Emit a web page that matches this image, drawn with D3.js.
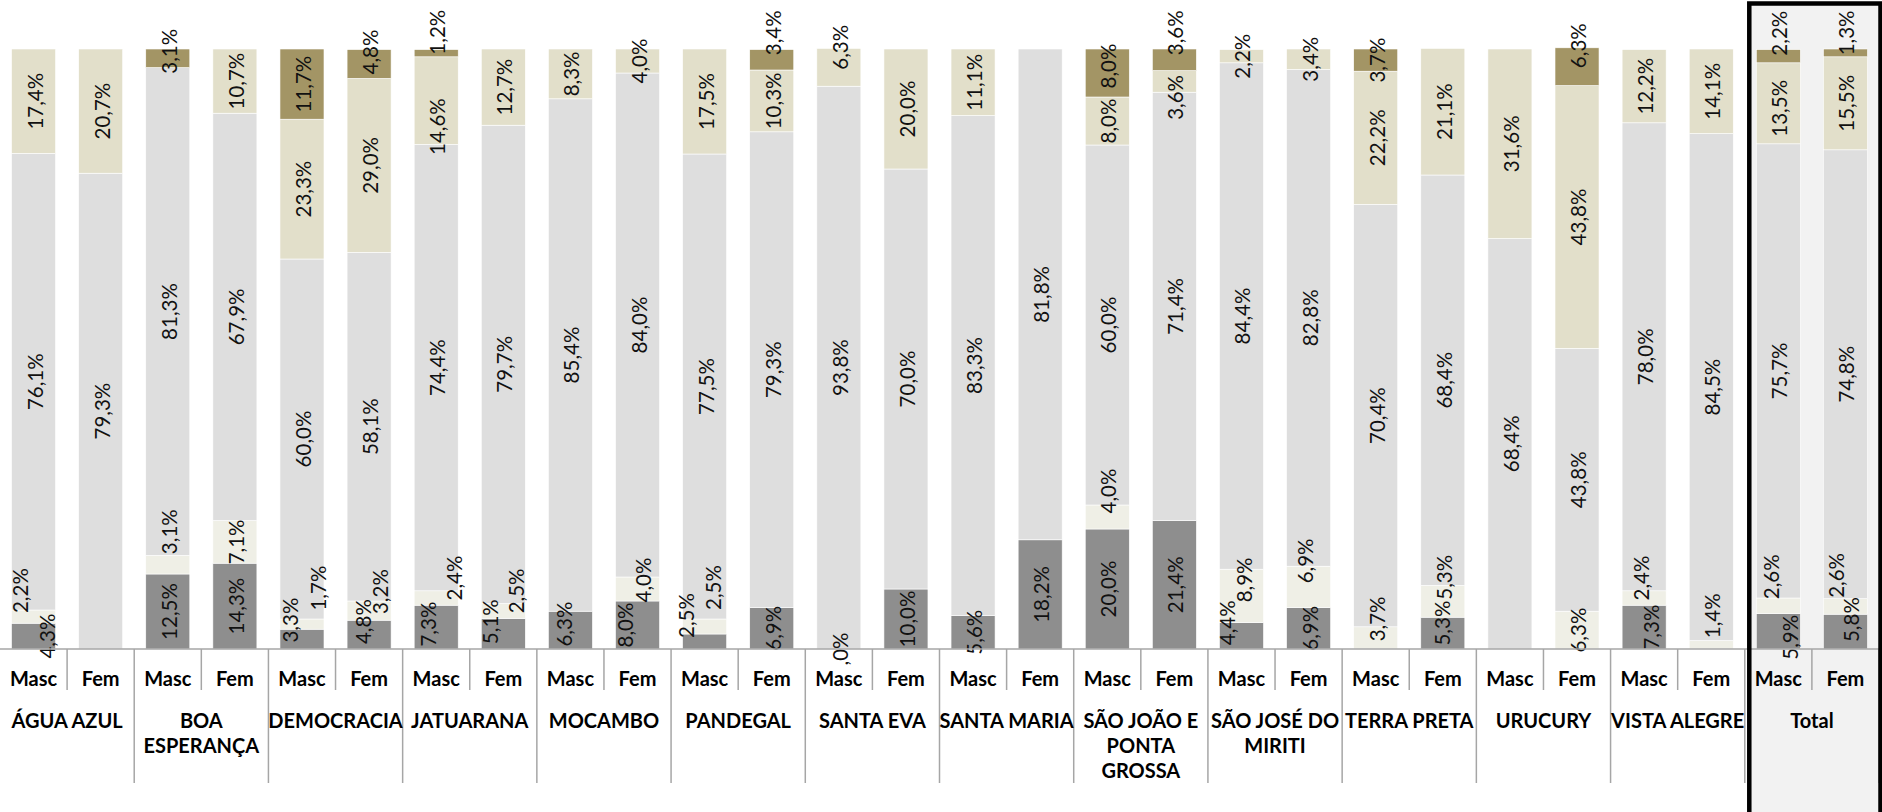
<!DOCTYPE html>
<html><head><meta charset="utf-8">
<script src="https://cdn.jsdelivr.net/npm/d3@7"></script>
<style>html,body{margin:0;padding:0;background:#fff;} svg{display:block;}</style>
</head><body><svg id="c" width="1882" height="812"></svg>
<script>
// ---------- DATA ----------
const groups = ["ÁGUA AZUL","BOA\nESPERANÇA","DEMOCRACIA","JATUARANA","MOCAMBO","PANDEGAL","SANTA EVA","SANTA MARIA","SÃO JOÃO E\nPONTA\nGROSSA","SÃO JOSÉ DO\nMIRITI","TERRA PRETA","URUCURY","VISTA ALEGRE","Total"];
const sexes = ["Masc","Fem"];
// one value per bar: group order, Masc then Fem
const serie1 = [4.3,null, 12.5,14.3, 3.3,4.8, 7.3,5.1, 6.3,8.0, 2.5,6.9, 0,10.0, 5.6,18.2, 20.0,21.4, 4.4,6.9, null,5.3, null,null, 7.3,null, 5.9,5.8];
const serie2 = [2.2,null, 3.1,7.1, 1.7,3.2, 2.4,2.5, null,4.0, 2.5,null, null,null, null,null, 4.0,null, 8.9,6.9, 3.7,5.3, null,6.3, 2.4,1.4, 2.6,2.6];
const serie3 = [76.1,79.3, 81.3,67.9, 60.0,58.1, 74.4,79.7, 85.4,84.0, 77.5,79.3, 93.8,70.0, 83.3,81.8, 60.0,71.4, 84.4,82.8, 70.4,68.4, 68.4,43.8, 78.0,84.5, 75.7,74.8];
const serie4 = [17.4,20.7, null,10.7, 23.3,29.0, 14.6,12.7, 8.3,4.0, 17.5,10.3, 6.3,20.0, 11.1,null, 8.0,3.6, 2.2,3.4, 22.2,21.1, 31.6,43.8, 12.2,14.1, 13.5,15.5];
const serie5 = [null,null, 3.1,null, 11.7,4.8, 1.2,null, null,null, null,3.4, null,null, null,null, 8.0,3.6, null,null, 3.7,null, null,6.3, null,null, 2.2,1.3];

// ---------- STYLE / LAYOUT ----------
const seriesKeys = ["s1","s2","s3","s4","s5"];
const colors = ["#8e8e8e","#efefe6","#dedede","#e2dfca","#a39565"];
// manual label nudges (like dragged Excel labels): [bar, series, dx, dy]
const labelNudges = [
 [0,0,12,0],[0,1,-15,-26],
 [2,4,0,-7],[2,1,0,-33],
 [4,0,-13,-19],[4,1,15,-36],
 [5,4,0,-12],[5,0,-7,-13],[5,1,10,-19],
 [6,4,0,-21],[6,3,0,26],[6,0,-9,-3],[6,1,17,-20],
 [7,0,-14,-12],[7,1,12,-20],
 [8,0,-7,-6],
 [9,0,-14,0],[9,1,4,-9],
 [10,0,-20,-26],[10,1,7,-39],
 [11,4,0,-27],
 [12,3,0,-20],
 [16,4,0,-7],[16,1,0,-26],
 [17,4,0,-27],[17,3,0,16],
 [18,0,-15,-13],[18,1,2,-16],
 [19,1,-5,-26],
 [20,1,0,-19],
 [21,0,-2,-10],[21,1,0,-24],
 [23,4,0,-21],
 [24,0,6,0],[24,1,-4,-20],
 [25,1,0,-29],
 [26,4,0,-23],[26,3,0,5],[26,0,11,6],[26,1,-8,-29],
 [27,4,0,-20],[27,0,5,-12],[27,1,-10,-31]
];
const W = 1882, H = 812;
const plotTop = 49, plotBottom = 649, plotLeft = 0, plotRight = 1879;
const fontFam = "Lato, 'Open Sans', sans-serif";

// ---------- BUILD TABLE ----------
const series = [serie1, serie2, serie3, serie4, serie5];
const table = serie3.map((_, i) => {
  const row = {i, group: groups[Math.floor(i/2)], sex: sexes[i%2]};
  seriesKeys.forEach((k, j) => { row[k] = series[j][i] == null ? 0 : series[j][i]; row[k+"raw"] = series[j][i]; });
  return row;
});
const nudge = {};
labelNudges.forEach(([b,s,dx,dy]) => nudge[b+":"+s] = [dx,dy]);

const svg = d3.select("#c");
const x = d3.scaleBand().domain(d3.range(table.length)).range([plotLeft, plotRight]).paddingInner(0.344).paddingOuter(0.172);
const step = x.step();
const xg = d3.scaleBand().domain(d3.range(groups.length)).range([plotLeft, plotRight]);
const y = d3.scaleLinear().domain([0, 100]).range([plotBottom, plotTop]);

// Total box background
const tg = groups.length - 1;
svg.append("rect").attr("x", xg(tg) + 4).attr("y", 3).attr("width", plotRight - xg(tg)).attr("height", H + 10).attr("fill", "#f2f2f2");

const stacked = d3.stack().keys(seriesKeys)(table);

const layers = svg.append("g").selectAll("g").data(stacked).join("g").attr("fill", (d, j) => colors[j]);
layers.selectAll("rect").data(d => d.filter(p => p[1] - p[0] > 0)).join("rect")
  .attr("x", p => x(p.data.i)).attr("width", x.bandwidth())
  .attr("y", p => y(p[1])).attr("height", p => y(p[0]) - y(p[1]))
  .attr("stroke", "#ffffff").attr("stroke-width", 0.6);

// value labels
const fmt = v => v === 0 ? ",0%" : d3.format(".1f")(v).replace(".", ",") + "%";
const labelsG = svg.append("g").attr("font-family", fontFam).attr("font-size", 20.5).attr("fill", "#111");
stacked.forEach((layer, j) => {
  layer.forEach(p => {
    const raw = p.data[seriesKeys[j] + "raw"];
    if (raw == null) return;
    const nd = nudge[p.data.i + ":" + j] || [0, 0];
    const cx = x(p.data.i) + x.bandwidth() / 2 + 1 + nd[0];
    const cy = (y(p[0]) + y(p[1])) / 2 + nd[1];
    labelsG.append("text").attr("transform", `translate(${cx},${cy}) rotate(-90)`)
      .attr("text-anchor", "middle").attr("dominant-baseline", "central").text(fmt(raw));
  });
});

// x axis with sex labels
const axis = d3.axisBottom(x).tickSize(0).tickPadding(0).tickFormat(i => sexes[i % 2]);
const ax = svg.append("g").attr("transform", `translate(0,${plotBottom})`).call(axis);
ax.select(".domain").remove();
ax.selectAll("text").attr("font-family", fontFam).attr("font-size", 20).attr("font-weight", "bold").attr("fill", "#000")
  .attr("dy", null).attr("y", 29).attr("dominant-baseline", "central");

// baseline and separators
const lineCol = "#a6a6a6";
svg.append("line").attr("x1", plotLeft).attr("x2", plotRight).attr("y1", plotBottom).attr("y2", plotBottom).attr("stroke", lineCol).attr("stroke-width", 1.5);
const sep = svg.append("g").attr("stroke", lineCol).attr("stroke-width", 1.5);
d3.range(1, table.length + 1).forEach(k => {
  const xx = plotLeft + k * step;
  sep.append("line").attr("x1", xx).attr("x2", xx).attr("y1", plotBottom).attr("y2", k % 2 === 1 ? 690 : 783);
});

// group labels
const gl = svg.append("g").attr("font-family", fontFam).attr("font-size", 20).attr("font-weight", "bold").attr("fill", "#000").attr("text-anchor", "middle");
groups.forEach((g, gi) => {
  const t = gl.append("text").attr("x", xg(gi) + xg.bandwidth() / 2).attr("y", 720).attr("dominant-baseline", "central");
  g.split("\n").forEach((ln, li) => {
    t.append("tspan").attr("x", xg(gi) + xg.bandwidth() / 2).attr("y", 720 + li * 25).text(ln);
  });
});

// Total box border
svg.append("rect").attr("x", xg(tg) + 4.5).attr("y", 3.5).attr("width", plotRight - xg(tg) - 3).attr("height", H + 10)
  .attr("fill", "none").attr("stroke", "#000").attr("stroke-width", 4.5);
</script></body></html>
